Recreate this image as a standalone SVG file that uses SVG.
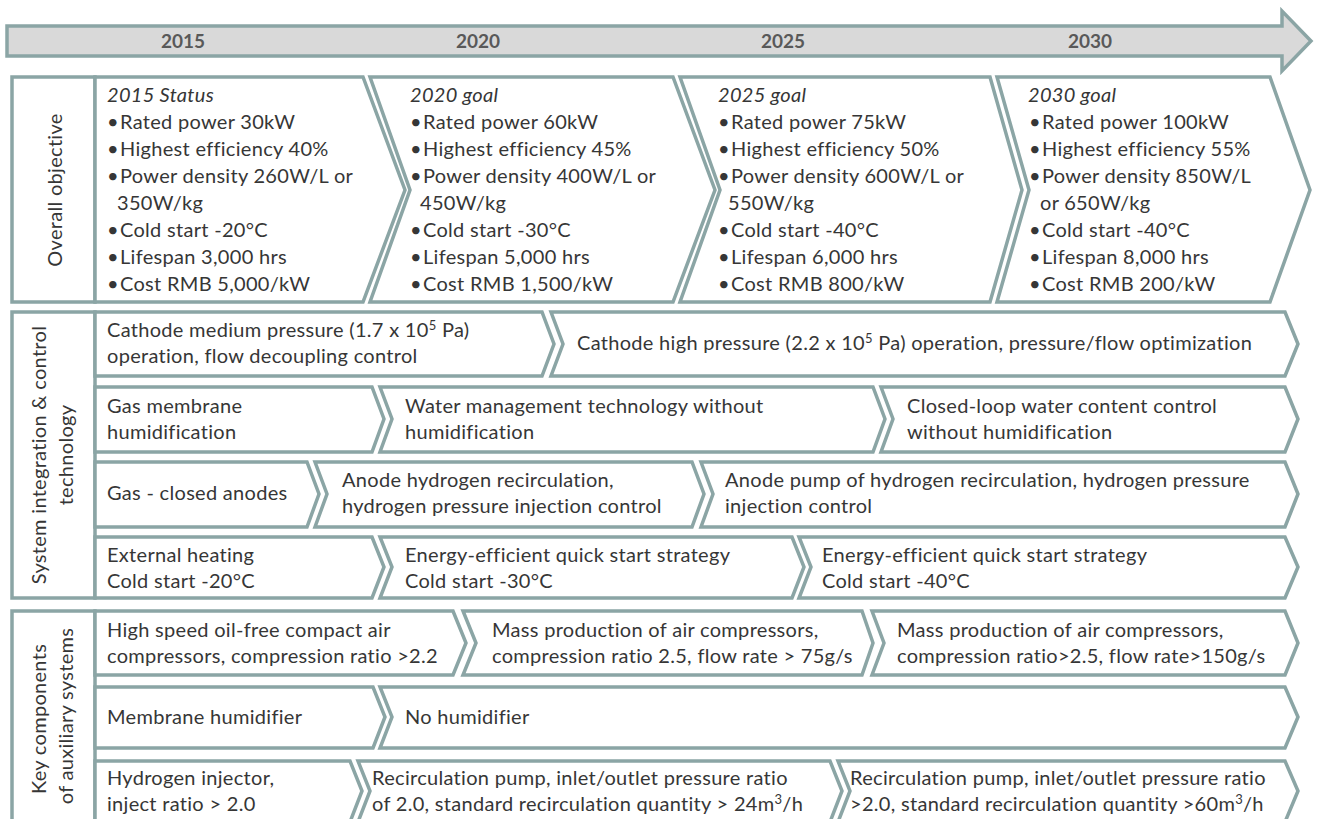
<svg xmlns="http://www.w3.org/2000/svg" width="1317" height="819" viewBox="0 0 1317 819">
<style>
.s{fill:#fff;stroke:#8ba5a5;stroke-width:3.5;stroke-linejoin:miter}
.frame{fill:#fff;stroke:#8ba5a5;stroke-width:3.5}
.t{font-family:Lato,"Liberation Sans",sans-serif;font-size:20px;letter-spacing:0.3px;fill:#363636}
.i{font-style:italic}
.h{font-family:Lato,"Liberation Sans",sans-serif;font-size:19px;font-weight:bold;fill:#595959;text-anchor:middle}
.l{font-family:Lato,"Liberation Sans",sans-serif;font-size:20px;letter-spacing:0.3px;fill:#363636;text-anchor:middle}
</style>
<rect width="1317" height="819" fill="#fff"/>

<g id="timeline">
<polygon points="7,26 1282,26 1282,11 1311,41 1282,71 1282,56 7,56" fill="#d9d9d9" stroke="#8ba5a5" stroke-width="3.5"/>
<text class="h" x="183" y="48">2015</text>
<text class="h" x="478" y="48">2020</text>
<text class="h" x="783" y="48">2025</text>
<text class="h" x="1090" y="48">2030</text>
</g>

<g id="section-overall">
<rect class="frame" x="12" y="77" width="83" height="225"/>
<text class="l" transform="translate(62,190) rotate(-90)">Overall objective</text>
</g>
<g id="section-system">
<rect class="frame" x="12" y="312" width="83" height="286"/>
<text class="l" transform="translate(46,455) rotate(-90)">System integration &amp; control</text>
<text class="l" transform="translate(73,455) rotate(-90)">technology</text>
</g>
<g id="section-key">
<rect class="frame" x="12" y="611" width="83" height="215"/>
<text class="l" transform="translate(46,719) rotate(-90)">Key components</text>
<text class="l" transform="translate(73,716) rotate(-90)">of auxiliary systems</text>
</g>

<g id="connectors"></g>

<g id="obj-2015">
<polygon class="s" points="95,77 363,77 405,190 363,302 95,302"/>
<text class="t i" x="107" y="102">2015 Status</text>
<text class="t" y="129"><tspan x="107">•</tspan><tspan x="120">Rated power 30kW</tspan></text>
<text class="t" y="156"><tspan x="107">•</tspan><tspan x="120">Highest efficiency 40%</tspan></text>
<text class="t" y="183"><tspan x="107">•</tspan><tspan x="120">Power density 260W/L or</tspan></text>
<text class="t" x="117" y="210">350W/kg</text>
<text class="t" y="237"><tspan x="107">•</tspan><tspan x="120">Cold start -20°C</tspan></text>
<text class="t" y="264"><tspan x="107">•</tspan><tspan x="120">Lifespan 3,000 hrs</tspan></text>
<text class="t" y="291"><tspan x="107">•</tspan><tspan x="120">Cost RMB 5,000/kW</tspan></text>
</g>
<g id="obj-2020">
<polygon class="s" points="370,77 673,77 715,190 673,302 370,302 410,190"/>
<text class="t i" x="410" y="102">2020 goal</text>
<text class="t" y="129"><tspan x="410">•</tspan><tspan x="423">Rated power 60kW</tspan></text>
<text class="t" y="156"><tspan x="410">•</tspan><tspan x="423">Highest efficiency 45%</tspan></text>
<text class="t" y="183"><tspan x="410">•</tspan><tspan x="423">Power density 400W/L or</tspan></text>
<text class="t" x="420" y="210">450W/kg</text>
<text class="t" y="237"><tspan x="410">•</tspan><tspan x="423">Cold start -30°C</tspan></text>
<text class="t" y="264"><tspan x="410">•</tspan><tspan x="423">Lifespan 5,000 hrs</tspan></text>
<text class="t" y="291"><tspan x="410">•</tspan><tspan x="423">Cost RMB 1,500/kW</tspan></text>
</g>
<g id="obj-2025">
<polygon class="s" points="680,77 990,77 1022,190 990,302 680,302 720,190"/>
<text class="t i" x="718" y="102">2025 goal</text>
<text class="t" y="129"><tspan x="718">•</tspan><tspan x="731">Rated power 75kW</tspan></text>
<text class="t" y="156"><tspan x="718">•</tspan><tspan x="731">Highest efficiency 50%</tspan></text>
<text class="t" y="183"><tspan x="718">•</tspan><tspan x="731">Power density 600W/L or</tspan></text>
<text class="t" x="728" y="210">550W/kg</text>
<text class="t" y="237"><tspan x="718">•</tspan><tspan x="731">Cold start -40°C</tspan></text>
<text class="t" y="264"><tspan x="718">•</tspan><tspan x="731">Lifespan 6,000 hrs</tspan></text>
<text class="t" y="291"><tspan x="718">•</tspan><tspan x="731">Cost RMB 800/kW</tspan></text>
</g>
<g id="obj-2030">
<polygon class="s" points="997,77 1270,77 1310,190 1270,302 997,302 1029,190"/>
<text class="t i" x="1028" y="102">2030 goal</text>
<text class="t" y="129"><tspan x="1029">•</tspan><tspan x="1042">Rated power 100kW</tspan></text>
<text class="t" y="156"><tspan x="1029">•</tspan><tspan x="1042">Highest efficiency 55%</tspan></text>
<text class="t" y="183"><tspan x="1029">•</tspan><tspan x="1042">Power density 850W/L</tspan></text>
<text class="t" x="1040" y="210">or 650W/kg</text>
<text class="t" y="237"><tspan x="1029">•</tspan><tspan x="1042">Cold start -40°C</tspan></text>
<text class="t" y="264"><tspan x="1029">•</tspan><tspan x="1042">Lifespan 8,000 hrs</tspan></text>
<text class="t" y="291"><tspan x="1029">•</tspan><tspan x="1042">Cost RMB 200/kW</tspan></text>
</g>

<g id="sys-cathode-medium">
<polygon class="s" points="95,312 542,312 554,344 542,376 95,376"/>
<text class="t" x="107" y="337">Cathode medium pressure (1.7 x 10<tspan dy="-7" font-size="13">5</tspan><tspan dy="7"> Pa)</tspan></text>
<text class="t" x="107" y="363">operation, flow decoupling control</text>
</g>
<g id="sys-cathode-high">
<polygon class="s" points="551,312 1285,312 1298,344 1285,376 551,376 563,344"/>
<text class="t" x="577" y="350">Cathode high pressure (2.2 x 10<tspan dy="-7" font-size="13">5</tspan><tspan dy="7"> Pa) operation, pressure/flow optimization</tspan></text>
</g>

<g id="sys-gas-membrane">
<polygon class="s" points="95,387 372,387 384,419 372,452 95,452"/>
<text class="t" x="107" y="413">Gas membrane</text>
<text class="t" x="107" y="439">humidification</text>
</g>
<g id="sys-water-mgmt">
<polygon class="s" points="380,387 873,387 885,419 873,452 380,452 392,419"/>
<text class="t" x="405" y="413">Water management technology without</text>
<text class="t" x="405" y="439">humidification</text>
</g>
<g id="sys-closed-loop">
<polygon class="s" points="881,387 1285,387 1298,419 1285,452 881,452 893,419"/>
<text class="t" x="907" y="413">Closed-loop water content control</text>
<text class="t" x="907" y="439">without humidification</text>
</g>

<g id="sys-gas-closed">
<polygon class="s" points="95,462 307,462 319,494 307,527 95,527"/>
<text class="t" x="107" y="500">Gas - closed anodes</text>
</g>
<g id="sys-anode-recirc">
<polygon class="s" points="315,462 692,462 704,494 692,527 315,527 327,494"/>
<text class="t" x="342" y="487">Anode hydrogen recirculation,</text>
<text class="t" x="342" y="513">hydrogen pressure injection control</text>
</g>
<g id="sys-anode-pump">
<polygon class="s" points="701,462 1285,462 1298,494 1285,527 701,527 713,494"/>
<text class="t" x="725" y="487">Anode pump of hydrogen recirculation, hydrogen pressure</text>
<text class="t" x="725" y="513">injection control</text>
</g>

<g id="sys-external-heating">
<polygon class="s" points="95,537 372,537 384,567 372,598 95,598"/>
<text class="t" x="107" y="562">External heating</text>
<text class="t" x="107" y="588">Cold start -20°C</text>
</g>
<g id="sys-quick-start-30">
<polygon class="s" points="380,537 792,537 804,567 792,598 380,598 392,567"/>
<text class="t" x="405" y="562">Energy-efficient quick start strategy</text>
<text class="t" x="405" y="588">Cold start -30°C</text>
</g>
<g id="sys-quick-start-40">
<polygon class="s" points="799,537 1285,537 1298,567 1285,598 799,598 811,567"/>
<text class="t" x="822" y="562">Energy-efficient quick start strategy</text>
<text class="t" x="822" y="588">Cold start -40°C</text>
</g>

<g id="key-compressor-1">
<polygon class="s" points="95,611 453,611 466,643 453,675 95,675"/>
<text class="t" x="107" y="637">High speed oil-free compact air</text>
<text class="t" x="107" y="663">compressors, compression ratio &gt;2.2</text>
</g>
<g id="key-compressor-2">
<polygon class="s" points="463,611 862,611 873,643 862,675 463,675 476,643"/>
<text class="t" x="492" y="637">Mass production of air compressors,</text>
<text class="t" x="492" y="663">compression ratio 2.5, flow rate &gt; 75g/s</text>
</g>
<g id="key-compressor-3">
<polygon class="s" points="872,611 1285,611 1298,643 1285,675 872,675 884,643"/>
<text class="t" x="897" y="637">Mass production of air compressors,</text>
<text class="t" x="897" y="663">compression ratio&gt;2.5, flow rate&gt;150g/s</text>
</g>

<g id="key-humidifier">
<polygon class="s" points="95,687 373,687 385,717 373,748 95,748"/>
<text class="t" x="107" y="724">Membrane humidifier</text>
</g>
<g id="key-no-humidifier">
<polygon class="s" points="380,687 1285,687 1298,717 1285,748 380,748 392,717"/>
<text class="t" x="405" y="724">No humidifier</text>
</g>

<g id="key-injector">
<polygon class="s" points="95,761 350,761 362,791 350,822 95,822"/>
<text class="t" x="107" y="785">Hydrogen injector,</text>
<text class="t" x="107" y="811">inject ratio &gt; 2.0</text>
</g>
<g id="key-pump-2">
<polygon class="s" points="358,761 830,761 842,791 830,822 358,822 370,791"/>
<text class="t" x="372" y="785">Recirculation pump, inlet/outlet pressure ratio</text>
<text class="t" x="372" y="811">of 2.0, standard recirculation quantity &gt; 24m<tspan dy="-7" font-size="13">3</tspan><tspan dy="7">/h</tspan></text>
</g>
<g id="key-pump-3">
<polygon class="s" points="838,761 1285,761 1298,791 1285,822 838,822 850,791"/>
<text class="t" x="850" y="785">Recirculation pump, inlet/outlet pressure ratio</text>
<text class="t" x="850" y="811">&gt;2.0, standard recirculation quantity &gt;60m<tspan dy="-7" font-size="13">3</tspan><tspan dy="7">/h</tspan></text>
</g>
</svg>
